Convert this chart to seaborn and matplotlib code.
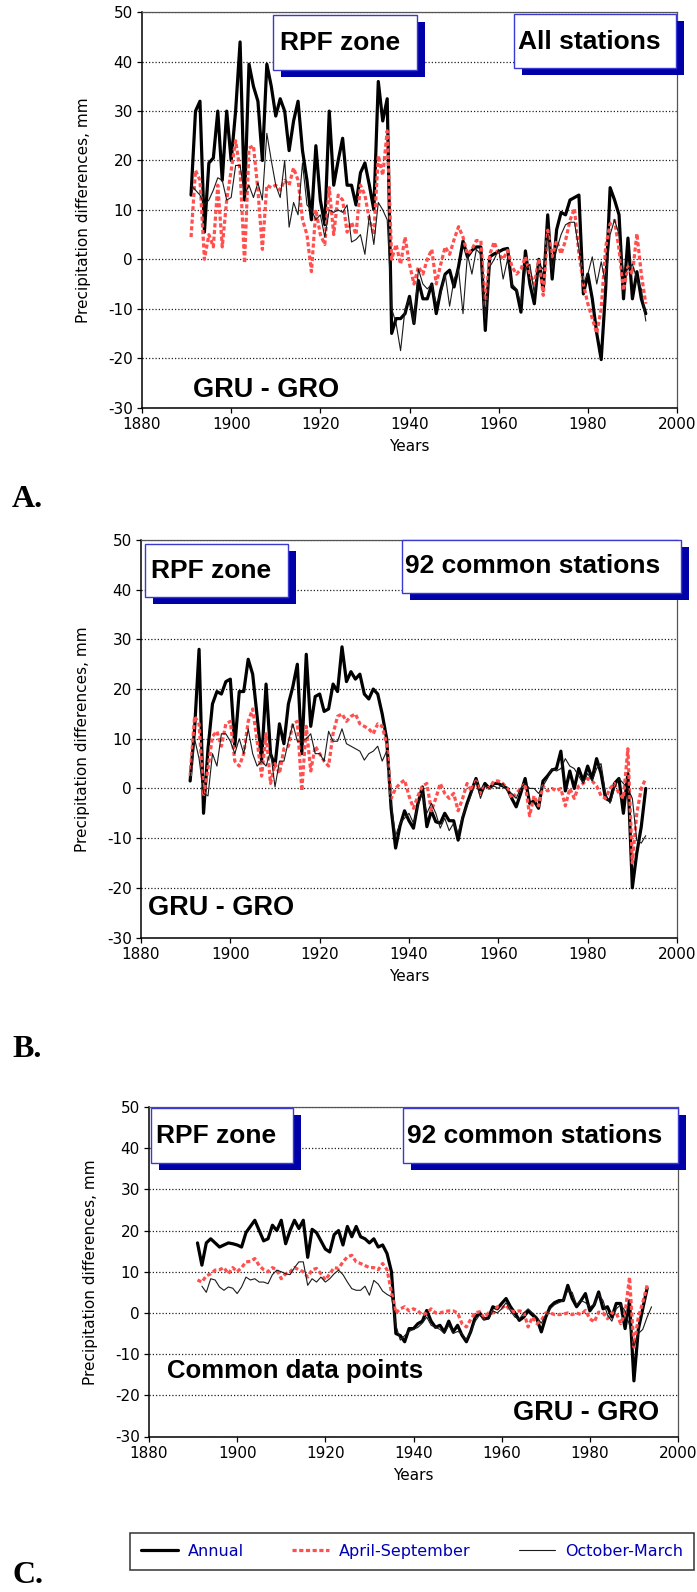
import numpy as np
import pandas as pd
import seaborn as sns
import matplotlib.pyplot as plt
from matplotlib.patches import Rectangle
from matplotlib.lines import Line2D

# years on the x axis (Oct-Mar series in panel C runs one year longer)
years = list(range(1891, 1995))

# panel A: RPF zone, all stations (GRU - GRO, mm)
a_annual = [13, 30, 32, 5.5, 19.5, 20.5, 30, 16, 30, 20,
            30, 44, 12, 39.5, 35, 32, 20, 39.5, 35, 29,
            32.5, 30, 22, 28, 32, 22, 16, 8, 23, 12,
            7, 30, 15, 20, 24.5, 15, 15, 11, 17.5, 19.5,
            15, 10, 36, 28, 32.5, -15, -12, -12, -11, -7.5,
            -13, -4.3, -8, -8, -5, -11, -6.3, -3, -2.2, -5.6,
            -1.5, 3.7, 0.5, 1.8, 2.5, 2.5, -14.4, 0.5, 1.1, 1.5,
            2, 2.2, -5.6, -6.3, -10.7, 1.7, -5, -9, 0, -6.3,
            9, -4, 6, 9.5, 9, 12, 12.5, 13, -7, -3,
            -8, -15, -20.3, -6, 14.5, 12, 9, -8, 4.3, -8,
            -2.5, -8, -11, None]
a_aprsep = [4.5, 18, 16, 0, 5, 2.5, 15, 2.5, 12, 18,
            24, 18, -0.8, 22.5, 23, 14, 2, 15, 14.5, 15,
            14, 16, 15, 18.5, 16, 8, 5, -2.5, 10, 5,
            3, 14.5, 5, 13, 12, 5.5, 7.5, 5, 15, 13,
            8, 5, 21, 17, 26, 0, 3, -1, 4.5, -1,
            -5, -1.5, -3, 0, 2, -5, -1, 2.5, 1, 4,
            6.6, 4.5, 1, 2, 3.8, 3.8, -9.7, 1, 3.5, 1,
            0, 1.8, -1.5, -3, -2, 0.5, -3, -5, 0, -7.3,
            5.9, 0.5, 3.8, 1.1, 3.8, 7.9, 10.3, 1.1, -5, -9,
            -12, -15, -10, 2.5, 7.2, 7.9, 2, -6.3, -1.5, -3,
            5.2, -3, -9, None]
a_octmar = [15, 14, 13, 11, 12, 14, 16.5, 16, 12, 12.5,
            19, 19, 13, 15, 12.5, 15.5, 12, 25.5, 20, 15,
            12.5, 20, 6.5, 11.5, 9, 19.5, 11, 10, 8, 9,
            4.5, 10, 9.5, 10, 9.5, 11, 3.5, 4, 5, 1,
            9, 3, 11.5, 10, 8, -10, -13, -18.5, -10, -8,
            -13, -2, -5, -6, -5, -9, -7, -3, -9.5, -4,
            -2, -11, 1, -3, 2, 1, -12, -1.5, 0, 2,
            -4, 0, -5, -6, -9, -2, -1, -7, -1, -2,
            5, -2, 2, 5, 7, 7.5, 7.5, 2, -5, -3,
            0.5, -5, -0.5, -5, 5, 8, 5, -3, -2, -1,
            -4, -6, -12.5, None]

# panel B: RPF zone, 92 common stations
b_annual = [1.5, 12, 28, -5, 8, 17, 19.5, 19, 21.5, 22,
            8.5, 19.5, 19.5, 26, 23, 14.5, 5.5, 21, 7, 4.5,
            13, 9, 17, 20.5, 25, 7, 27, 12.5, 18.5, 19,
            15.5, 16, 21, 19.5, 28.5, 21.5, 23.5, 22, 23, 19,
            18, 20, 19, 15, 10, -4, -12, -7.5, -4.5, -6.5,
            -8, -3, 0.3, -7.7, -4.5, -6.7, -7, -5, -6.5, -6.5,
            -10.4, -6, -3, -0.5, 2, -1, 1, 0, 1, 1,
            0.5, 0, -2, -3.7, -1, 2, -3, -2.5, -4, 1.5,
            2.5, 3.7, 4, 7.5, -0.5, 3.5, 0, 4, 1.5, 4.5,
            2, 6, 3, -2, -2.5, 1, 2, -5, 3, -20,
            -13, -7.7, 0, None]
b_aprsep = [2.5, 14.5, 13, -1.5, 4, 10.5, 11.5, 8.5, 13, 13.5,
            5.5, 4.5, 7, 13.5, 16, 9.5, 2.5, 11, 1, 5,
            3, 8, 8.5, 13, 13.5, -0.5, 12.5, 3.5, 8.5, 7,
            5.5, 4.5, 11, 14.5, 15, 13.5, 14.5, 15, 13, 12.5,
            12, 11, 13, 12.5, 9, -2, 0, 1, 1.7, -1.5,
            -4, -1.5, 0.5, 1, -4.5, -2, 1, -1, -2, -1,
            -4.5, -2, 1, -0.5, 1.5, -1, 0.5, 0, 1.5, 1.5,
            1, 0, -2, -1, 0, 1, -5.5, -1.5, -3.5, 0.5,
            -0.5, 0, -0.5, 0, -3.5, 0, -2, 0.5, 1, 2,
            1.5, 0.5, -1.5, -2, 0, 1, -1, -2, 8, -15,
            -5, 0, 2, None]
b_octmar = [2, 10, 6, -1, -1.5, 7, 4.5, 11, 11, 9.5,
            7, 10, 7, 12, 7, 4.5, 5.5, 4.5, 7.5, 0.3,
            5.5, 5.5, 9.5, 13, 9.5, 9.5, 10, 11, 7, 7,
            5.5, 11.5, 9.5, 9.5, 12, 9, 8.5, 8, 7.5, 5.7,
            7, 7.5, 8.5, 5.5, 7.5, -3, -9.5, -7, -6, -5,
            -7, -3.5, -1, -5, -3, -5, -8, -6, -8.5, -7,
            -9, -5.5, -3.5, -1, 1.5, -2, 0.5, 0, 0.5, 0,
            1, -0.5, -1, -2, 0, 1, 0, 0, -1, 0.5,
            2, 4, 3.5, 4, 6, 4.5, 4, 2.5, 1, 3,
            1.5, 4, 5, -1, -3, 0, 2, 1, 0, -2,
            -10.5, -11, -9.5, None]

# panel C: RPF zone, 92 common stations, common data points
c_annual = [17, 11.6, 17, 18, 17, 16, 16.5, 17, 16.8, 16.5,
            16, 19.5, 21, 22.5, 20, 17.5, 18, 21.3, 20, 22.5,
            16.8, 20, 22.5, 20.5, 22.5, 13.5, 20.3, 19.5, 17.5, 15.5,
            14.8, 19, 20, 16.5, 21, 18.5, 21, 18.5, 18, 17,
            18, 16, 16.5, 14.4, 10, -5, -5.5, -7, -3.8, -3.8,
            -2.6, -2, 0.6, -2, -3.5, -3, -4.6, -2, -4.6, -3,
            -5.4, -7, -4.5, -1, 0, -1.5, -1.2, 1.5, 1, 2.3,
            3.5, 1.5, 0, -1.8, -1, 0.5, -0.5, -1.5, -4.6, -1,
            1.5, 2.5, 3, 3, 6.7, 3.5, 1.5, 3, 4.7, 0.5,
            2, 5.1, 1, 1.5, -1, 2.3, 2.3, -3.8, 3, -16.5,
            -4, 1, 6, None]
c_aprsep = [8, 7.5, 9, 9.5, 10.4, 10.5, 11, 9.5, 11, 10,
            11, 12.4, 12.5, 13.2, 11.5, 10.5, 10, 11, 10.5, 8.3,
            9.5, 10, 11, 10.5, 10, 8.7, 10.5, 10.8, 9.5, 8,
            9.5, 11, 10.8, 12.4, 13.6, 14, 12.4, 12, 11.5, 11,
            11, 10.5, 12, 10.5, 5, 0, 1, 1.5, 0.5, 1,
            0.5, -0.5, 0, 1, 0, 0, 0.3, 0.5, 0.5, 0,
            -2.6, -3.4, -1.5, 0, 0.3, -1.2, 0, 0, 1.5, 1.2,
            1.9, 0.5, 0.3, 0.5, 0.3, -3.4, -1, -2.6, -1.8, 0,
            0, -0.4, -0.4, -0.3, 0, -0.4, 0, -0.4, 0.6, -1.4,
            -2.2, 0.2, 0, -1.4, 0, 0, -2.6, 0, 8.7, -8.3,
            -1, 2.5, 6.7, None]
c_octmar = [None, 6.5, 5, 8.3, 8, 6.3, 5.5, 6.3, 6, 4.7,
            6.3, 8.7, 8, 8.3, 7.5, 7.5, 7.1, 9.3, 10.4, 10,
            9.5, 9.3, 11, 12.4, 12.4, 6.7, 8.3, 7.5, 8.7, 7.5,
            8.3, 9.5, 10.4, 9.3, 7.5, 5.9, 5.5, 5.5, 6.5, 4.3,
            7.9, 7, 5.3, 4.5, 3.9, -3, -6.6, -5.5, -4.5, -4,
            -3.5, -2.5, -1, -3, -3.5, -4, -5, -3, -5, -4.5,
            -5, -6.5, -4.5, -2, -0.5, -1.5, -1.5, 0.5, 0, 1,
            2.5, 0.5, -1, -1.5, 0, 1, 0, -1, -2.5, -0.5,
            1, 2, 2.5, 3, 5.5, 5, 2, 3, 2.5, 1.5,
            2, 4.5, 3, -0.5, -2, 1, 2, 0.5, -3, -8,
            -5, -4, -1, 1.5]

series_labels = ["Annual", "April-September", "October-March"]

RED = "#ff4f4f"
SHADOW = "#0000a8"
BORDER = "#3a3ad0"
BLUE = "#0000b4"
W, H = 697, 1592

sns.set_style("white")
plt.rcParams["font.family"] = ["DejaVu Sans"]
plt.rcParams["text.color"] = "black"
plt.rcParams["axes.labelcolor"] = "black"
plt.rcParams["xtick.color"] = "black"
plt.rcParams["ytick.color"] = "black"
plt.rcParams["axes.unicode_minus"] = False

fig = plt.figure(figsize=(W / 100, H / 100), dpi=100)


def px_axes(x0, y0, x1, y1):
    # axes from pixel box (top-left origin)
    return fig.add_axes([x0 / W, 1 - y1 / H, (x1 - x0) / W, (y1 - y0) / H])


def px_rect(x0, y0, x1, y1, **kw):
    return Rectangle((x0 / W, 1 - y1 / H), (x1 - x0) / W, (y1 - y0) / H,
                     transform=fig.transFigure, **kw)


def label_box(x0, y0, x1, y1, text, tx, ty):
    fig.add_artist(px_rect(x0 + 8, y0 + 7, x1 + 8, y1 + 7, fc=SHADOW, ec="none"))
    fig.add_artist(px_rect(x0, y0, x1, y1, fc="white", ec=BORDER, lw=1))
    fig.text(tx / W, 1 - ty / H, text, fontsize=19, fontweight="bold",
             family="Liberation Sans", va="baseline", ha="left", color="black")


def big_text(text, tx, ty, size=19.5):
    fig.text(tx / W, 1 - ty / H, text, fontsize=size, fontweight="bold",
             family="Liberation Sans", va="baseline", ha="left", color="black")


def draw_panel(ax, annual, aprsep, octmar):
    df = pd.DataFrame({"year": years, "annual": annual,
                       "apr_sep": aprsep, "oct_mar": octmar})
    sns.lineplot(data=df, x="year", y="annual", ax=ax, color="black",
                 linewidth=2.3, estimator=None)
    sns.lineplot(data=df, x="year", y="apr_sep", ax=ax, color=RED,
                 linewidth=2.3, linestyle=(0, (1.3, 0.8)), estimator=None)
    sns.lineplot(data=df, x="year", y="oct_mar", ax=ax, color="#1a1a1a",
                 linewidth=0.8, estimator=None)
    ax.set_xlim(1880, 2000)
    ax.set_ylim(-30, 50)
    ax.set_xticks(range(1880, 2001, 20))
    ax.set_yticks(range(-30, 51, 10))
    ax.yaxis.grid(True, linestyle=(0, (1, 1.6)), color="#222222", linewidth=0.9)
    ax.xaxis.grid(False)
    ax.set_axisbelow(True)
    ax.tick_params(direction="out", length=3.6, width=0.9, pad=3,
                   labelsize=11, colors="black", left=True, bottom=True)
    for side in ["left", "bottom"]:
        ax.spines[side].set_color("black")
        ax.spines[side].set_linewidth(1.1)
    for side in ["top", "right"]:
        ax.spines[side].set_color("#555555")
        ax.spines[side].set_linewidth(0.9)
    ax.set_xlabel("Years", fontsize=11, labelpad=5)
    ax.set_ylabel("Precipitation differences, mm", fontsize=11)
    ax.yaxis.set_label_coords(-0.096, 0.5)


# panel A
ax_a = px_axes(142, 12.3, 677, 407.5)
draw_panel(ax_a, a_annual, a_aprsep, a_octmar)
label_box(273, 15, 417, 70, "RPF zone", 280, 50)
label_box(514, 14, 676, 68, "All stations", 518, 49)
big_text("GRU - GRO", 193, 397)
fig.text(12 / W, 1 - 507 / H, "A.", family="Liberation Serif",
         fontweight="bold", fontsize=23, va="baseline")

# panel B
ax_b = px_axes(141, 540, 677, 937.5)
draw_panel(ax_b, b_annual, b_aprsep, b_octmar)
label_box(145, 544, 288, 597, "RPF zone", 151, 578)
label_box(402, 540, 681, 593, "92 common stations", 405, 573)
big_text("GRU - GRO", 148, 915)
fig.text(12 / W, 1 - 1057 / H, "B.", family="Liberation Serif",
         fontweight="bold", fontsize=23, va="baseline")

# panel C
ax_c = px_axes(149, 1107, 678, 1436.5)
draw_panel(ax_c, c_annual, c_aprsep, c_octmar)
label_box(151, 1108, 293, 1163, "RPF zone", 156, 1143)
label_box(403, 1108, 678, 1163, "92 common stations", 407, 1143)
big_text("Common data points", 167, 1378, size=18.5)
big_text("GRU - GRO", 513, 1420)
fig.text(12 / W, 1 - 1583 / H, "C.", family="Liberation Serif",
         fontweight="bold", fontsize=23, va="baseline")

# shared legend at the bottom
handles = [Line2D([], [], color="black", lw=2.3),
           Line2D([], [], color=RED, lw=2.3, ls=(0, (1.3, 0.8))),
           Line2D([], [], color="#1a1a1a", lw=0.8)]
leg = fig.legend(handles, series_labels, loc="lower left",
                 bbox_to_anchor=(130 / W, 1 - 1570 / H, 564 / W, 36 / H),
                 mode="expand", ncol=3, frameon=True, fancybox=False,
                 borderaxespad=0, borderpad=0.7, handlelength=2.3,
                 handletextpad=0.6, fontsize=11.5, labelcolor=BLUE)
leg.get_frame().set_edgecolor("black")
leg.get_frame().set_linewidth(1.1)

plt.savefig("out.png", dpi=100)
